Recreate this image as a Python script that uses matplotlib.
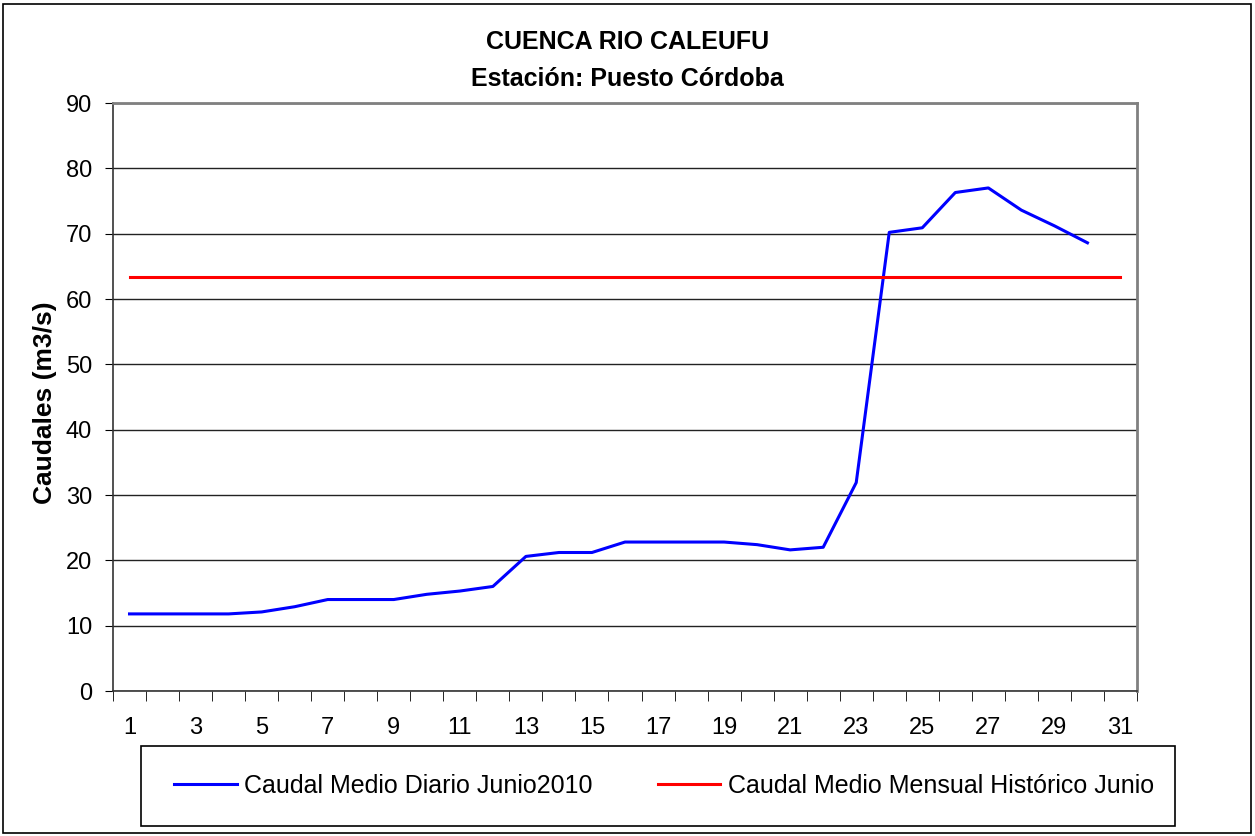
import matplotlib.pyplot as plt
from matplotlib.patches import Rectangle

plt.rcParams['font.family'] = ['Liberation Sans', 'DejaVu Sans']

# daily mean flow, June 2010 (m3/s)
dias = list(range(1, 31))
caudal_diario = [11.8, 11.8, 11.8, 11.8, 12.1, 12.9, 14.0, 14.0, 14.0, 14.8,
                 15.3, 16.0, 20.6, 21.2, 21.2, 22.8, 22.8, 22.8, 22.8, 22.4,
                 21.6, 22.0, 31.9, 70.2, 70.9, 76.3, 77.0, 73.6, 71.2, 68.6]

# historical June monthly mean
dias_hist = list(range(1, 32))
caudal_historico = [63.4] * 31

x_labels = [str(d) for d in range(1, 32, 2)]
y_ticks = list(range(0, 91, 10))

W, H = 1255, 836
fig = plt.figure(figsize=(W / 100, H / 100), dpi=100)
# outer chart border
fig.patches.append(Rectangle((3 / W, 3 / H), 1248 / W, 829 / H, transform=fig.transFigure,
                             fill=False, edgecolor='black', linewidth=1.2))

ax = fig.add_axes([113 / W, 1 - 691 / H, 1024 / W, 588 / H])

ax.plot(dias, caudal_diario, color='#0000ff', linewidth=2.2,
        label='Caudal Medio Diario Junio2010')
ax.plot(dias_hist, caudal_historico, color='#ff0000', linewidth=2.2,
        label='Caudal Medio Mensual Histórico Junio')

ax.set_xlim(0.5, 31.5)
ax.set_ylim(0, 90)
ax.set_yticks(y_ticks)
ax.set_xticks(range(1, 32, 2))
ax.set_xticklabels(x_labels)
ax.set_xticks([d + 0.5 for d in range(0, 32)], minor=True)
ax.tick_params(axis='x', which='major', length=0, labelsize=17, pad=19)
ax.tick_params(axis='x', which='minor', length=7, direction='out', color='black')
ax.tick_params(axis='y', which='major', length=6, direction='out', labelsize=17, pad=9)

ax.grid(axis='y', color='#222222', linewidth=1)
ax.set_axisbelow(True)

for side in ['top', 'right']:
    ax.spines[side].set_color('#808080')
    ax.spines[side].set_linewidth(2)
for side in ['left', 'bottom']:
    ax.spines[side].set_color('#333333')
    ax.spines[side].set_linewidth(1.2)

ax.set_ylabel('Caudales (m3/s)', fontsize=19, fontweight='bold')
ax.yaxis.set_label_coords((57 - 113) / 1024, 0.49)

fig.text(0.5, 1 - 42 / H, 'CUENCA RIO CALEUFU', ha='center', va='center',
         fontsize=18, fontweight='bold')
fig.text(0.5, 1 - 79 / H, 'Estación: Puesto Córdoba', ha='center', va='center',
         fontsize=18, fontweight='bold')

# legend box drawn separately, legend entries inside
fig.patches.append(Rectangle((141 / W, 1 - 826 / H), 1034 / W, 80 / H,
                             transform=fig.transFigure, fill=False,
                             edgecolor='black', linewidth=1.2))
fig.legend(loc='center', bbox_to_anchor=(664 / W, 1 - 786 / H), ncol=2,
           fontsize=18, frameon=False, handlelength=2.5, handletextpad=0.3,
           columnspacing=2.6, borderaxespad=0)

fig.savefig('out.png', dpi=100)
